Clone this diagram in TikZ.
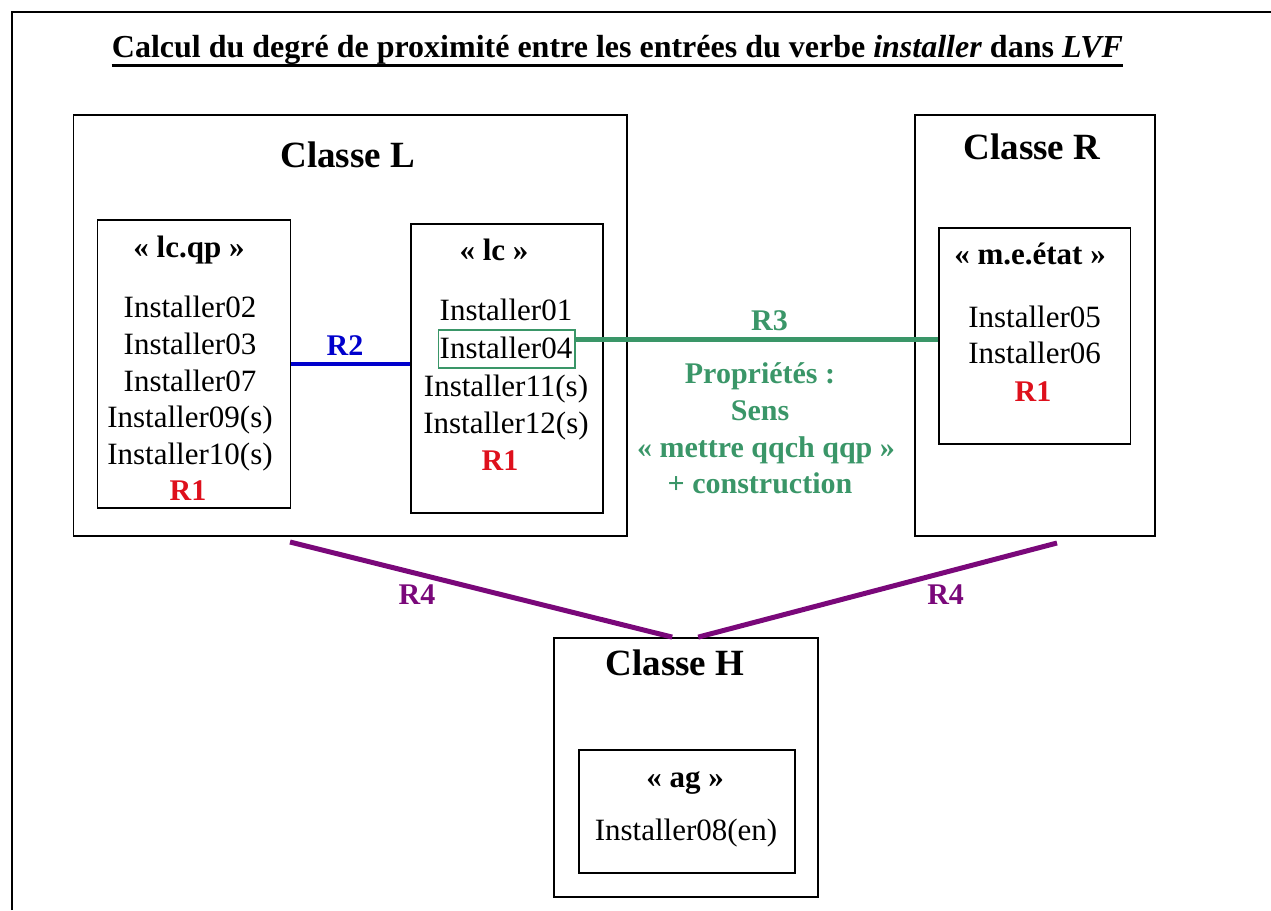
\documentclass[tikz,border=0pt]{standalone}
\usepackage{fontspec}
\setmainfont{Liberation Serif}
\usetikzlibrary{positioning}
\definecolor{rougeR}{RGB}{222,16,28}
\definecolor{bleuR}{RGB}{0,0,204}
\definecolor{vertR}{RGB}{58,150,104}
\definecolor{violetR}{RGB}{122,8,122}

\begin{document}
\begin{tikzpicture}[x=1pt,y=-1pt,
	cadre/.style={draw,line width=1.8pt,inner sep=0pt},
	entry/.style={inner sep=0pt,anchor=base,font=\fontsize{31}{33}\selectfont},
	stereo/.style={entry,font=\fontsize{31}{33}\selectfont\bfseries},
	classe/.style={entry,font=\fontsize{37}{39}\selectfont\bfseries},
	rel/.style={entry,font=\fontsize{30}{32}\selectfont\bfseries},
	lien/.style={line width=5pt}]
	\useasboundingbox (0,0) rectangle (1271,910);
	% cadre general
	\draw [line width=2.5pt] (12,910) -- (12,12) -- (1271,12);
	\node[inner sep=0pt,anchor=base,font=\fontsize{32}{34}\selectfont\bfseries] (titre) at (617.5,57)
		{Calcul du degré de proximité entre les entrées du verbe \textit{installer} dans \textit{LVF}};
	\draw [line width=3pt] ([yshift=-8pt]titre.base west) -- ([yshift=-8pt]titre.base east);

	% Classe L
	\node[cadre,minimum width=553.6pt,minimum height=421pt] (classL) at (350.2,325.5) {};
	\node[classe] (tL) at (347.7,167) {Classe L};
	\node[cadre,minimum width=193pt,minimum height=288pt] (lcqp) at (194,364) {};
	\node[stereo] (slcqp) at (189,257) {« lc.qp »};
	\node[entry] (q02) at (190,317) {Installer02};
	\node[entry] (q03) at (190,354) {Installer03};
	\node[entry] (q07) at (190,391) {Installer07};
	\node[entry] (q09) at (190,427) {Installer09(s)};
	\node[entry] (q10) at (190,464) {Installer10(s)};
	\node[rel,text=rougeR] (q1) at (188,500) {R1};
	\node[cadre,minimum width=192.4pt,minimum height=289pt] (lc) at (506.8,368.5) {};
	\node[stereo] (slc) at (494,260) {« lc »};
	\node[entry] (c01) at (506,320) {Installer01};
	\node[draw=vertR,line width=1.2pt,minimum width=136.5pt,minimum height=38pt,inner sep=0pt] (inst04) at (506.8,349) {};
	\node[entry] (c04) at (506,358) {Installer04};
	\node[entry] (c11) at (506,396) {Installer11(s)};
	\node[entry] (c12) at (506,433) {Installer12(s)};
	\node[rel,text=rougeR] (c1) at (500,470) {R1};

	% Classe R
	\node[cadre,minimum width=240.4pt,minimum height=421pt] (classR) at (1034.8,325.5) {};
	\node[classe] (tR) at (1032,159) {Classe R};
	\node[cadre,minimum width=191.8pt,minimum height=216pt] (meetat) at (1034.6,336) {};
	\node[stereo] (smeetat) at (1030,264) {« m.e.état »};
	\node[entry] (e05) at (1034.6,327) {Installer05};
	\node[entry] (e06) at (1034.6,363) {Installer06};
	\node[rel,text=rougeR] (e1) at (1033,401) {R1};

	% Classe H
	\node[cadre,minimum width=263.7pt,minimum height=259pt] (classH) at (686.2,767.5) {};
	\node[classe] (tH) at (675,675) {Classe H};
	\node[cadre,minimum width=216.3pt,minimum height=123pt] (ag) at (686.9,811.5) {};
	\node[stereo] (sag) at (685,787) {« ag »};
	\node[entry] (g08) at (686,840) {Installer08(en)};

	% relations
	\draw [lien,bleuR,line width=4.5pt] (lcqp.east) -- (lcqp.east -| lc.west);
	\node[rel,text=bleuR] (r2) at (345,355) {R2};
	\draw [lien,vertR] ([yshift=10pt]inst04.east) -- ([yshift=10pt]inst04.east -| meetat.west);
	\node[rel,text=vertR] (r3) at (769.5,330) {R3};
	\node[rel,text=vertR] (p1) at (760,383) {Propriétés :};
	\node[rel,text=vertR] (p2) at (760,420) {Sens};
	\node[rel,text=vertR] (p3) at (766,457) {« mettre qqch qqp »};
	\node[rel,text=vertR] (p4) at (760,493) {+ construction};
	\coordinate (depL) at (290,542);
	\coordinate (depR) at (1057,543);
	\draw [lien,violetR] (depL) -- ([xshift=-14pt]classH.north);
	\draw [lien,violetR] (depR) -- ([xshift=12pt]classH.north);
	\node[rel,text=violetR] (r4a) at (417,604) {R4};
	\node[rel,text=violetR] (r4b) at (945.6,604) {R4};
\end{tikzpicture}
\end{document}
